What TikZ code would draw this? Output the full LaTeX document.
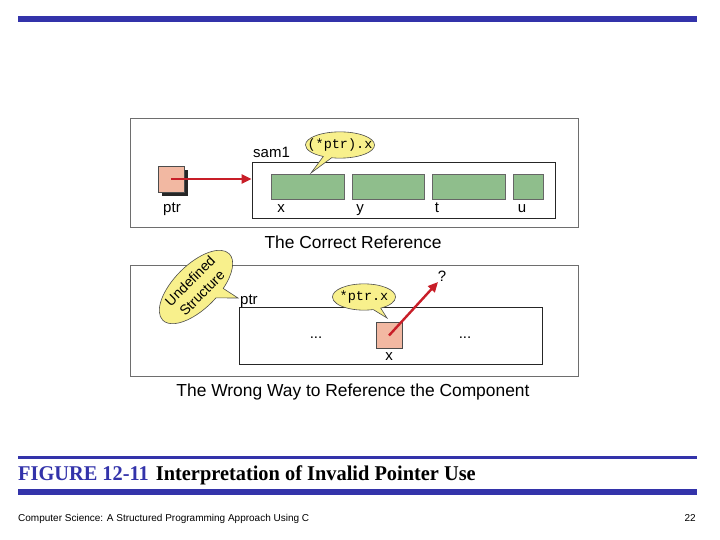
\documentclass[tikz,border=0pt]{standalone}
\usepackage{fontspec}
\setmainfont{Liberation Serif}
\setsansfont{Liberation Sans}
\setmonofont{Liberation Mono}
\usetikzlibrary{shapes.callouts,shadows,arrows.meta,positioning}
\definecolor{slideblue}{RGB}{51,51,170}
\definecolor{cellgreen}{RGB}{143,190,140}
\definecolor{ptrpink}{RGB}{242,184,162}
\definecolor{noteyellow}{RGB}{248,240,140}
\definecolor{arrowred}{RGB}{200,30,40}
\definecolor{framegray}{RGB}{110,110,110}

\tikzset{
  lbl/.style={font=\sffamily\fontsize{15}{17}\selectfont, inner sep=0pt},
  caption/.style={font=\sffamily\fontsize{17.4}{19}\selectfont, inner sep=0pt, anchor=base},
  panel/.style={draw=framegray, line width=1pt, inner sep=0pt},
  record/.style={draw=black!85, line width=0.9pt, inner sep=0pt},
  field/.style={draw=black!60, fill=cellgreen, line width=0.6pt, minimum height=25pt, inner sep=0pt},
  cell/.style={draw=black!70, fill=ptrpink, line width=0.6pt, minimum width=26pt, minimum height=26pt, inner sep=0pt},
  note/.style={ellipse callout, draw=black!70, fill=noteyellow, line width=0.6pt,
    font=\ttfamily\fontsize{13.5}{15}\selectfont, inner ysep=3pt},
  redarrow/.style={draw=arrowred, line width=2.4pt, -{Triangle[length=10pt,width=9pt]}},
}

\begin{document}
\begin{tikzpicture}[x=1pt,y=-1pt]
  \useasboundingbox (0,0) rectangle (720,540);
  \fill[white] (0,0) rectangle (720,540);

  % slide rules
  \fill[slideblue] (18,16) rectangle (697,22);
  \fill[slideblue] (18,456) rectangle (697,459);
  \fill[slideblue] (18,489) rectangle (697,495);

  % the correct reference
  \node[panel, minimum width=448pt, minimum height=109pt] (toppanel) at (354,173.5) {};
  \node[record, minimum width=303pt, minimum height=56pt] (sam1) at (403.5,190) {};
  \node[lbl, anchor=base west] (samlbl) at (253,158) {sam1};
  \node[field, minimum width=73pt] (fx) at (307.5,186.5) {};
  \node[field, minimum width=72pt] (fy) at (388,186.5) {};
  \node[field, minimum width=73pt] (ft) at (468.5,186.5) {};
  \node[field, minimum width=30pt] (fu) at (528,186.5) {};
  \node[lbl, anchor=base] (lx) at (281,213) {x};
  \node[lbl, anchor=base] (ly) at (360,213) {y};
  \node[lbl, anchor=base] (lt) at (437,213) {t};
  \node[lbl, anchor=base] (lu) at (522,213) {u};
  \node[cell, drop shadow={shadow xshift=4pt, shadow yshift=-4pt, opacity=1, fill=black!85}] (ptr) at (171,179) {};
  \node[lbl, anchor=base] (ptrlbl) at (172,212) {ptr};
  \draw[redarrow] (ptr.center) -- (ptr.center -| sam1.west);
  \node[note, inner xsep=-8pt, callout absolute pointer={(311,173)}] (paren) at (340,145) {(*ptr).x};
  \node[caption] (cap1) at (353,248) {The Correct Reference};

  % the wrong way
  \node[panel, minimum width=448pt, minimum height=111pt] (botpanel) at (354,320.5) {};
  \node[record, minimum width=303pt, minimum height=57pt] (rec) at (390.5,335.5) {};
  \node[lbl, anchor=base west] (ptr2lbl) at (240,304) {ptr};
  \node[lbl, anchor=base] (dots1) at (316,338) {...};
  \node[lbl, anchor=base] (dots2) at (465,338) {...};
  \node[cell] (xcell) at (389,335.5) {};
  \node[lbl, anchor=base] (xlbl) at (389,360) {x};
  \coordinate (nowhere) at (438,282);
  \node[lbl, anchor=base] (qmark) at (442,281) {?};
  \draw[redarrow] (xcell.center) -- (nowhere);
  \node[note, inner xsep=-2pt, callout absolute pointer={(387,318)}] (star) at (364,297) {*ptr.x};
  \node[ellipse callout, draw=black!70, fill=noteyellow, line width=0.6pt, rotate=45,
    font=\sffamily\fontsize{14}{17}\selectfont, align=center, inner sep=0pt,
    minimum width=94pt, minimum height=44pt,
    callout absolute pointer={(238,298)}] (undef) at (196,287) {Undefined\\Structure};
  \node[caption] (cap2) at (353,396) {The Wrong Way to Reference the Component};

  % slide caption and footer
  \node[anchor=base west, inner sep=0pt, font=\bfseries\fontsize{21}{23}\selectfont\addfontfeatures{FakeStretch=0.97}] (figcap) at (18,480)
    {{\color{slideblue}FIGURE 12-11}\hspace{7pt}Interpretation of Invalid Pointer Use};
  \node[anchor=base west, inner sep=0pt, font=\sffamily\fontsize{10}{11}\selectfont] (footer) at (18,521)
    {Computer Science: A Structured Programming Approach Using C};
  \node[anchor=base east, inner sep=0pt, font=\sffamily\fontsize{10}{11}\selectfont] (pageno) at (696,521) {22};
\end{tikzpicture}
\end{document}
